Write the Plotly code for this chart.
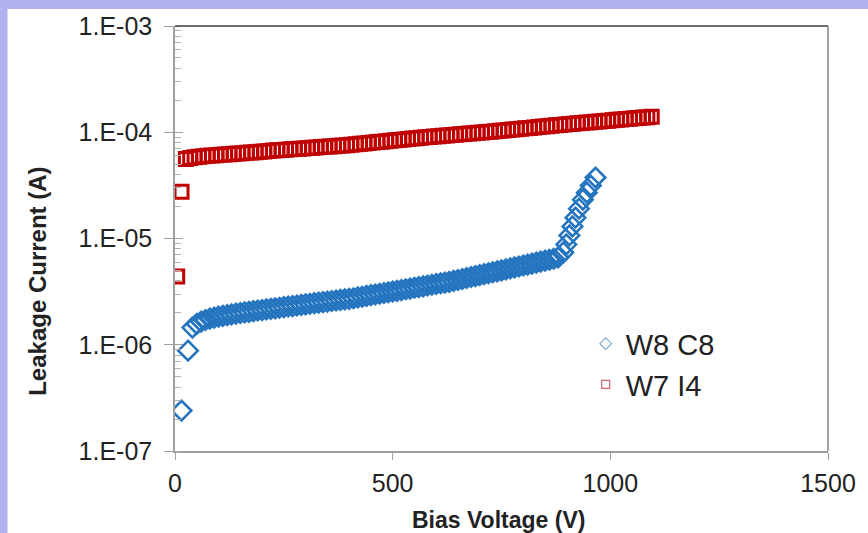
import plotly.graph_objects as go

# ---- data ----
w8_voltage = [15, 30, 40, 50, 60, 70, 80, 90, 100, 110, 120, 130, 140, 150, 160, 170, 180,
              190, 200, 210, 220, 230, 240, 250, 260, 270, 280, 290, 300, 310, 320, 330,
              340, 350, 360, 370, 380, 390, 400, 410, 420, 430, 440, 450, 460, 470, 480,
              490, 500, 510, 520, 530, 540, 550, 560, 570, 580, 590, 600, 610, 620, 630,
              640, 650, 660, 670, 680, 690, 700, 710, 720, 730, 740, 750, 760, 770, 780,
              790, 800, 810, 820, 830, 840, 850, 860, 870, 880, 892, 899, 906, 913, 920,
              928, 937, 946, 955, 966]
w8_current = [2.4e-7, 8.8e-7, 1.45e-6, 1.57e-6, 1.65e-6, 1.71e-6, 1.76e-6, 1.80e-6, 1.84e-6,
              1.87e-6, 1.90e-6, 1.93e-6, 1.96e-6, 1.99e-6, 2.02e-6, 2.04e-6, 2.07e-6,
              2.10e-6, 2.12e-6, 2.15e-6, 2.18e-6, 2.20e-6, 2.23e-6, 2.26e-6, 2.29e-6,
              2.31e-6, 2.34e-6, 2.37e-6, 2.40e-6, 2.43e-6, 2.46e-6, 2.49e-6, 2.52e-6,
              2.55e-6, 2.58e-6, 2.61e-6, 2.64e-6, 2.67e-6, 2.70e-6, 2.74e-6, 2.79e-6,
              2.83e-6, 2.88e-6, 2.93e-6, 2.97e-6, 3.02e-6, 3.07e-6, 3.12e-6, 3.17e-6,
              3.22e-6, 3.27e-6, 3.33e-6, 3.38e-6, 3.44e-6, 3.49e-6, 3.55e-6, 3.61e-6,
              3.67e-6, 3.73e-6, 3.79e-6, 3.85e-6, 3.91e-6, 3.99e-6, 4.07e-6, 4.16e-6,
              4.25e-6, 4.34e-6, 4.43e-6, 4.52e-6, 4.62e-6, 4.71e-6, 4.81e-6, 4.91e-6,
              5.02e-6, 5.12e-6, 5.23e-6, 5.34e-6, 5.45e-6, 5.57e-6, 5.68e-6, 5.80e-6,
              5.93e-6, 6.05e-6, 6.18e-6, 6.31e-6, 6.45e-6, 6.62e-6, 7.4e-6, 8.8e-6,
              1.07e-5, 1.30e-5, 1.57e-5, 1.91e-5, 2.32e-5, 2.70e-5, 3.15e-5, 3.75e-5]

w7_voltage = [5, 15, 25, 35, 45, 55, 65, 75, 85, 95, 105, 115, 125, 135, 145, 155, 165, 175,
              185, 195, 205, 215, 225, 235, 245, 255, 265, 275, 285, 295, 305, 315, 325,
              335, 345, 355, 365, 375, 385, 395, 405, 415, 425, 435, 445, 455, 465, 475,
              485, 495, 505, 515, 525, 535, 545, 555, 565, 575, 585, 595, 605, 615, 625,
              635, 645, 655, 665, 675, 685, 695, 705, 715, 725, 735, 745, 755, 765, 775,
              785, 795, 805, 815, 825, 835, 845, 855, 865, 875, 885, 895, 905, 915, 925,
              935, 945, 955, 965, 975, 985, 995, 1005, 1015, 1025, 1035, 1045, 1055, 1065,
              1075, 1085, 1095]
w7_current = [4.4e-6, 2.75e-5, 5.60e-5, 5.72e-5, 5.81e-5, 5.88e-5, 5.95e-5, 6.00e-5, 6.05e-5,
              6.09e-5, 6.13e-5, 6.17e-5, 6.22e-5, 6.26e-5, 6.31e-5, 6.35e-5, 6.40e-5,
              6.45e-5, 6.50e-5, 6.55e-5, 6.60e-5, 6.66e-5, 6.72e-5, 6.77e-5, 6.82e-5,
              6.86e-5, 6.91e-5, 6.96e-5, 7.01e-5, 7.05e-5, 7.10e-5, 7.15e-5, 7.20e-5,
              7.25e-5, 7.30e-5, 7.35e-5, 7.40e-5, 7.45e-5, 7.50e-5, 7.56e-5, 7.63e-5,
              7.70e-5, 7.78e-5, 7.85e-5, 7.93e-5, 8.00e-5, 8.08e-5, 8.15e-5, 8.23e-5,
              8.31e-5, 8.39e-5, 8.47e-5, 8.55e-5, 8.63e-5, 8.72e-5, 8.80e-5, 8.88e-5,
              8.96e-5, 9.03e-5, 9.11e-5, 9.18e-5, 9.26e-5, 9.33e-5, 9.41e-5, 9.49e-5,
              9.57e-5, 9.65e-5, 9.73e-5, 9.81e-5, 9.89e-5, 9.97e-5, 1.005e-4, 1.013e-4,
              1.022e-4, 1.031e-4, 1.040e-4, 1.050e-4, 1.059e-4, 1.069e-4, 1.079e-4,
              1.089e-4, 1.099e-4, 1.109e-4, 1.119e-4, 1.130e-4, 1.140e-4, 1.150e-4,
              1.161e-4, 1.171e-4, 1.182e-4, 1.193e-4, 1.203e-4, 1.213e-4, 1.223e-4,
              1.233e-4, 1.244e-4, 1.254e-4, 1.265e-4, 1.275e-4, 1.286e-4, 1.297e-4,
              1.308e-4, 1.319e-4, 1.330e-4, 1.341e-4, 1.352e-4, 1.363e-4, 1.375e-4,
              1.386e-4, 1.398e-4]

series_names = ["W8 C8", "W7 I4"]
x_ticks = [0, 500, 1000, 1500]
y_tickvals = [1e-7, 1e-6, 1e-5, 1e-4, 1e-3]
y_ticktext = ["1.E-07", "1.E-06", "1.E-05", "1.E-04", "1.E-03"]
x_title = "Bias Voltage (V)"
y_title = "Leakage Current (A)"

BLUE = "#2474bf"
RED = "#c00000"
FONT = "Liberation Sans, Arial, sans-serif"
AXIS_GRAY = "#a0a0a0"

fig = go.Figure()
fig.add_trace(go.Scatter(x=w8_voltage, y=w8_current, mode="markers", showlegend=False,
                         marker=dict(symbol="diamond-open", size=15, color=BLUE,
                                     line=dict(width=2.6, color=BLUE))))
fig.add_trace(go.Scatter(x=w7_voltage, y=w7_current, mode="markers", showlegend=False,
                         marker=dict(symbol="square-open", size=13, color=RED,
                                     line=dict(width=3, color=RED))))
# legend entries (smaller, lighter markers as in the reference)
fig.add_trace(go.Scatter(x=[None], y=[None], mode="markers", name=series_names[0],
                         marker=dict(symbol="diamond-open", size=9, color="#7fa9d4",
                                     line=dict(width=1.2, color="#7fa9d4"))))
fig.add_trace(go.Scatter(x=[None], y=[None], mode="markers", name=series_names[1],
                         marker=dict(symbol="square-open", size=8, color="#d06070",
                                     line=dict(width=1.2, color="#d06070"))))
# overlay axis to draw the inside half of the major y ticks
fig.add_trace(go.Scatter(x=[None], y=[None], yaxis="y2", showlegend=False))

L, R, T, B = 175, 38, 25, 82
W, H = 868, 533
pw, ph = W - L - R, H - T - B

fig.update_layout(
    width=W, height=H,
    margin=dict(l=L, r=R, t=T, b=B),
    paper_bgcolor="#b2b2ee",
    plot_bgcolor="white",
    font=dict(family=FONT, color="#222222"),
    xaxis=dict(range=[0, 1500], tickvals=x_ticks, ticks="outside", ticklen=7,
               tickcolor=AXIS_GRAY, showline=True, linecolor=AXIS_GRAY, linewidth=1.5,
               showgrid=False, zeroline=False, tickfont=dict(size=25, color="#222222"),
               ticklabelstandoff=2),
    yaxis=dict(type="log", range=[-7, -3], tickvals=y_tickvals, ticktext=y_ticktext,
               ticks="outside", ticklen=9, tickcolor=AXIS_GRAY, showline=True,
               linecolor=AXIS_GRAY, linewidth=1.5, showgrid=False, zeroline=False,
               tickfont=dict(size=25, color="#222222"), ticklabelstandoff=7,
               minor=dict(ticks="inside", ticklen=6, tickcolor="#b0b0b0", dtick="D1",
                          showgrid=False)),
    yaxis2=dict(type="log", range=[-7, -3], overlaying="y", side="left",
                tickvals=y_tickvals, ticks="inside", ticklen=8, tickcolor=AXIS_GRAY,
                showticklabels=False, showgrid=False, zeroline=False, showline=False),
    legend=dict(x=(587 - L) / pw, y=(H - B - 318) / ph, xanchor="left", yanchor="top",
                font=dict(size=29, color="#222222"), bgcolor="rgba(0,0,0,0)",
                tracegroupgap=0),
    shapes=[
        # white chart area over lavender frame
        dict(type="rect", xref="paper", yref="paper", layer="below",
             x0=(7 - L) / pw, x1=(W - L) / pw + 0.01,
             y0=-B / ph - 0.01, y1=(H - B - 8) / ph,
             fillcolor="white", line=dict(width=0)),
        # top border
        dict(type="line", xref="paper", yref="paper", x0=0, x1=1, y0=1, y1=1,
             line=dict(color="#3c3c3c", width=1.5)),
        # right border
        dict(type="line", xref="paper", yref="paper", x0=1, x1=1, y0=0, y1=1,
             line=dict(color="#858585", width=1.5)),
    ],
    annotations=[
        dict(text=x_title, xref="paper", yref="paper", x=(499 - L) / pw,
             y=(H - B - 520) / ph, xanchor="center", yanchor="middle", showarrow=False,
             font=dict(size=23, family=FONT, color="#222222", weight="bold")),
        dict(text=y_title, xref="paper", yref="paper", x=(37 - L) / pw,
             y=(H - B - 281) / ph, xanchor="center", yanchor="middle", showarrow=False,
             textangle=-90,
             font=dict(size=24, family=FONT, color="#222222", weight="bold")),
    ],
)

fig.write_html("out.html")
